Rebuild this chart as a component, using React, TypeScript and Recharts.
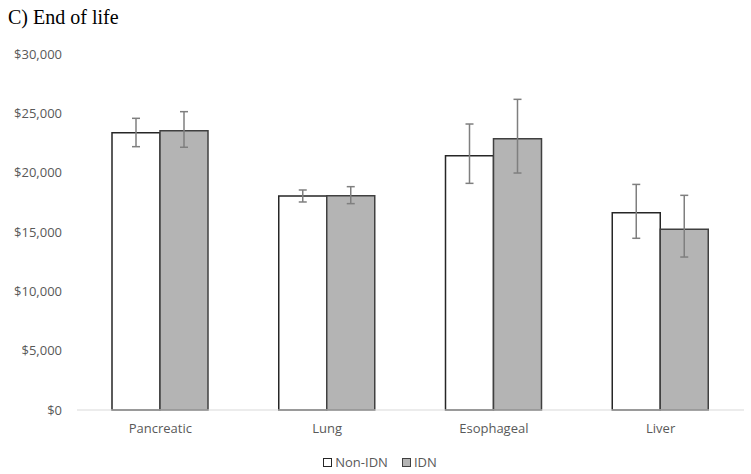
import { BarChart, Bar, XAxis, YAxis, ErrorBar, Legend } from "recharts";

const categories = ["Pancreatic", "Lung", "Esophageal", "Liver"];
const nonIdn = [23370, 18030, 21430, 16630];
const nonIdnLow = [22190, 17530, 19100, 14470];
const nonIdnHigh = [24580, 18540, 24100, 19010];
const idn = [23540, 18060, 22860, 15230];
const idnLow = [22140, 17390, 19970, 12890];
const idnHigh = [25140, 18820, 26180, 18090];
const yTicks = [0, 5000, 10000, 15000, 20000, 25000, 30000];

const data = categories.map((name, i) => ({
  name,
  nonIdn: nonIdn[i],
  nonIdnErr: [nonIdn[i] - nonIdnLow[i], nonIdnHigh[i] - nonIdn[i]],
  idn: idn[i],
  idnErr: [idn[i] - idnLow[i], idnHigh[i] - idn[i]],
}));

const FONT = "'Open Sans', sans-serif";
const TEXT = "#595959";

const legendItems = [
  { label: "Non-IDN", fill: "#ffffff", stroke: "#262626" },
  { label: "IDN", fill: "#b4b4b4", stroke: "#404040" },
];

function LegendContent() {
  return (
    <div
      style={{
        display: "flex",
        justifyContent: "center",
        alignItems: "center",
        gap: 14,
        paddingLeft: 16,
        fontFamily: FONT,
        fontSize: 13,
        color: TEXT,
        height: 24,
      }}
    >
      {legendItems.map((it) => (
        <span key={it.label} style={{ display: "flex", alignItems: "center" }}>
          <span
            style={{
              display: "inline-block",
              width: 7,
              height: 7,
              background: it.fill,
              border: `1.5px solid ${it.stroke}`,
              marginRight: 3,
            }}
          />
          {it.label}
        </span>
      ))}
    </div>
  );
}

export default function App() {
  return (
    <div
      style={{
        position: "absolute",
        left: 0,
        top: 0,
        width: 751,
        height: 474,
        background: "#fff",
      }}
    >
      <div
        style={{
          position: "absolute",
          left: 8,
          top: 6,
          fontFamily: "'Liberation Serif', serif",
          fontSize: 20,
          color: "#000",
        }}
      >
        C) End of life
      </div>
      <BarChart
        width={751}
        height={474}
        data={data}
        margin={{ top: 54, right: 7, left: 0, bottom: 0 }}
        barSize={48}
        barGap={0}
      >
        <XAxis
          dataKey="name"
          height={40}
          tickLine={false}
          axisLine={{ stroke: "#d9d9d9" }}
          tick={{ fill: TEXT, fontSize: 13, fontFamily: FONT }}
          tickMargin={8}
        />
        <YAxis
          width={77}
          domain={[0, 30000]}
          ticks={yTicks}
          axisLine={false}
          tickLine={false}
          tickMargin={9}
          tick={{ fill: TEXT, fontSize: 13, fontFamily: FONT }}
          tickFormatter={(v: number) => `$${v.toLocaleString("en-US")}`}
        />
        <Legend verticalAlign="bottom" height={24} content={() => <LegendContent />} />
        <Bar
          dataKey="nonIdn"
          name="Non-IDN"
          fill="#ffffff"
          stroke="#262626"
          strokeWidth={1.5}
          isAnimationActive={false}
        >
          <ErrorBar dataKey="nonIdnErr" width={4} stroke="#7f7f7f" strokeWidth={1.5} />
        </Bar>
        <Bar
          dataKey="idn"
          name="IDN"
          fill="#b4b4b4"
          stroke="#404040"
          strokeWidth={1.5}
          isAnimationActive={false}
        >
          <ErrorBar dataKey="idnErr" width={4} stroke="#7f7f7f" strokeWidth={1.5} />
        </Bar>
      </BarChart>
    </div>
  );
}
